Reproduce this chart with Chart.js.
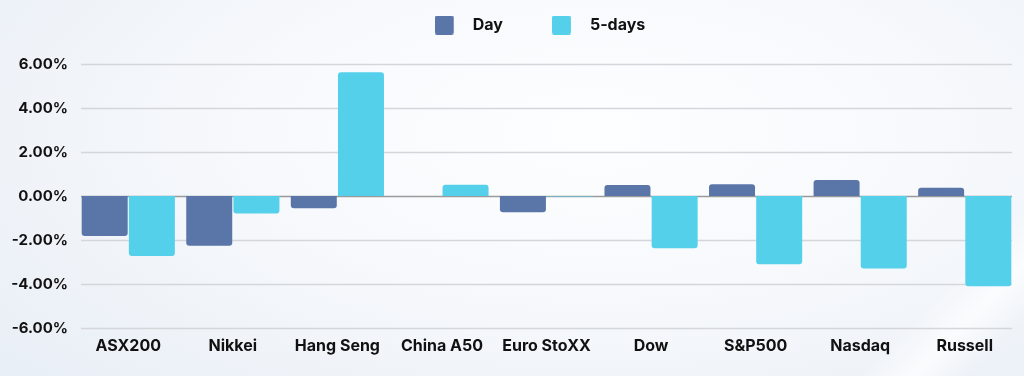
<!DOCTYPE html>
<html>
<head>
<meta charset="utf-8">
<script src="https://cdn.jsdelivr.net/npm/chart.js@4.4.0/dist/chart.umd.min.js"></script>
<style>
  html, body { margin: 0; padding: 0; }
  body {
    width: 1024px; height: 376px; overflow: hidden;
    background:
      linear-gradient(135deg, rgba(255,255,255,0) 88%, rgba(255,255,255,0.7) 92%, rgba(255,255,255,0) 96%),
      radial-gradient(ellipse 75% 95% at 58% 35%, #fdfeff 0%, #f7f9fc 45%, #e9eff6 100%);
  }
  #wrap { position: relative; width: 1024px; height: 376px; }
</style>
</head>
<body>
<div id="wrap"><canvas id="c"></canvas></div>
<script>
const categories = ["ASX200", "Nikkei", "Hang Seng", "China A50", "Euro StoXX", "Dow", "S&P500", "Nasdaq", "Russell"];
const dayValues = [-1.82, -2.26, -0.56, 0.0, -0.74, 0.50, 0.53, 0.73, 0.38];
const fiveDayValues = [-2.73, -0.79, 5.62, 0.51, -0.02, -2.38, -3.10, -3.29, -4.10];
const seriesNames = ["Day", "5-days"];
const seriesColors = ["#5a76a9", "#54d0eb"];
const yTicks = [-6, -4, -2, 0, 2, 4, 6];

const CAT_PCT = 0.9025;
const FONT = "Inter";
const LEGEND_CENTER = 540;

function makeSwatch(color) {
  const c = document.createElement('canvas');
  c.width = 30; c.height = 19;
  const g = c.getContext('2d');
  g.fillStyle = color;
  g.beginPath();
  if (g.roundRect) g.roundRect(0, 0, 19, 19, 2); else g.rect(0, 0, 19, 19);
  g.fill();
  return c;
}

const legendFit = {
  id: 'legendFit',
  beforeInit(chart) {
    const fit = chart.legend.fit;
    chart.legend.fit = function () {
      fit.call(chart.legend);
      this.height = 96;
    };
  },
  afterLayout(chart) {
    const lg = chart.legend;
    const s = LEGEND_CENTER - (lg.left + lg.right) / 2;
    lg.left += s; lg.right += s;
  }
};

const customGrid = {
  id: 'customGrid',
  beforeDatasetsDraw(chart) {
    const { ctx, scales: { x, y } } = chart;
    const step = x.getPixelForValue(1) - x.getPixelForValue(0);
    const left = x.getPixelForValue(0) - step * CAT_PCT / 2;
    const right = x.getPixelForValue(categories.length - 1) + step * CAT_PCT / 2;
    ctx.save();
    yTicks.forEach(v => {
      const py = Math.round(y.getPixelForValue(v)) + 0.5;
      ctx.beginPath();
      ctx.lineWidth = 1.5;
      ctx.strokeStyle = v === 0 ? '#9a9a9a' : '#d4d6d9';
      ctx.moveTo(left, py);
      ctx.lineTo(right, py);
      ctx.stroke();
    });
    ctx.restore();
  }
};

new Chart(document.getElementById('c'), {
  type: 'bar',
  data: {
    labels: categories,
    datasets: [
      { label: seriesNames[0], data: dayValues, backgroundColor: seriesColors[0], borderRadius: 3 },
      { label: seriesNames[1], data: fiveDayValues, backgroundColor: seriesColors[1], borderRadius: 3 }
    ]
  },
  options: {
    responsive: true,
    maintainAspectRatio: false,
    animation: false,
    events: [],
    layout: { padding: { top: -32, left: 3, right: 7, bottom: 0 } },
    categoryPercentage: CAT_PCT,
    barPercentage: 0.975,
    plugins: {
      legend: {
        position: 'top',
        align: 'center',
        labels: {
          usePointStyle: true,
          pointStyleWidth: 30,
          boxHeight: 16,
          padding: 49,
          color: '#111111',
          font: { family: FONT, size: 16, weight: '700' },
          generateLabels(chart) {
            return chart.data.datasets.map((ds, i) => ({
              text: ds.label,
              fillStyle: ds.backgroundColor,
              strokeStyle: ds.backgroundColor,
              lineWidth: 0,
              pointStyle: makeSwatch(ds.backgroundColor),
              hidden: false,
              datasetIndex: i,
              fontColor: '#111111'
            }));
          }
        }
      },
      tooltip: { enabled: false }
    },
    scales: {
      x: {
        offset: true,
        grid: { display: false, drawTicks: false },
        border: { display: false },
        ticks: {
          color: '#111111',
          padding: 9,
          maxRotation: 0,
          autoSkip: false,
          font: { family: FONT, size: 16, weight: '700' }
        },
        afterFit(s) { s.height = 48; }
      },
      y: {
        min: -6,
        max: 6,
        afterBuildTicks(s) { s.ticks = yTicks.map(v => ({ value: v })); },
        grid: { display: false, drawTicks: false },
        border: { display: false },
        ticks: {
          color: '#111111',
          padding: 8,
          font: { family: FONT, size: 15, weight: '700' },
          callback: v => v.toFixed(2) + '%'
        },
        afterFit(s) { s.width = 73; }
      }
    }
  },
  plugins: [legendFit, customGrid]
});
</script>
</body>
</html>
